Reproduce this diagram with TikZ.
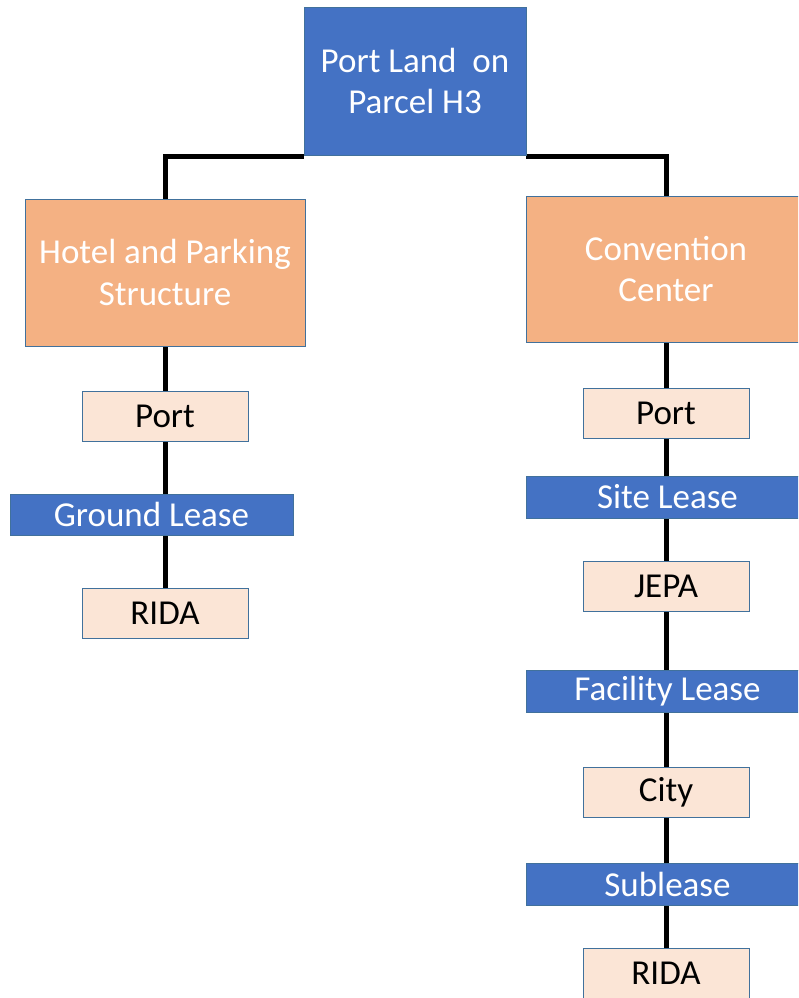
\documentclass[tikz,border=0pt]{standalone}
\usepackage{fontspec}
\setmainfont{Carlito}
\usetikzlibrary{backgrounds}
\definecolor{obBlue}{HTML}{4472C4}
\definecolor{obOrange}{HTML}{F4B183}
\definecolor{obPeach}{HTML}{FBE5D6}
\definecolor{obEdge}{HTML}{41719C}
\begin{document}
\begin{tikzpicture}[x=1pt,y=-1pt,
  box/.style={draw=obEdge,line width=0.9pt,inner sep=0pt,align=center,
    font=\fontsize{35}{41.5}\selectfont},
  topbox/.style={box,fill=obBlue,text=white,minimum width=222pt,minimum height=148pt},
  catbox/.style={box,fill=obOrange,text=white,minimum width=280pt,minimum height=147pt},
  party/.style={box,fill=obPeach,text=black,minimum width=166pt,minimum height=50pt},
  lease/.style={box,fill=obBlue,text=white,minimum width=283pt,minimum height=42pt},
  link/.style={line width=5pt,black}]
\clip (0,0) rectangle (798,998);
\node[topbox] (top) at (415,81) {Port Land~~on\\Parcel H3};
\node[catbox] (hotel) at (165,272.5) {Hotel and Parking\\Structure};
\node[catbox,minimum height=146pt] (conv) at (666,269) {Convention\\Center};
\node[party] (portL) at (165,416) {Port};
\node[lease,minimum height=41pt] (ground) at (151.5,514.5) {Ground Lease};
\node[party] (ridaL) at (165,613) {RIDA};
\node[party] (portR) at (666,413) {Port};
\node[lease] (site) at (667.5,497) {Site Lease};
\node[party] (jepa) at (666,586) {JEPA};
\node[lease] (facility) at (667.5,691) {Facility Lease};
\node[party] (city) at (666,792) {City};
\node[lease] (sublease) at (667.5,884) {Sublease};
\node[party] (ridaR) at (666,973) {RIDA};
\begin{scope}[on background layer]
\fill[white] (0,0) rectangle (798,998);
\draw[link] ([yshift=-1pt]top.south west) -| (hotel.north);
\draw[link] ([yshift=-1pt]top.south east) -| (conv.north);
\draw[link] (hotel.south) -- (portL.north);
\draw[link] (portL.south) -- (portL.south |- ground.north);
\draw[link] (ridaL.north |- ground.south) -- (ridaL.north);
\draw[link] (conv.south) -- (portR.north);
\draw[link] (portR.south) -- (portR.south |- site.north);
\draw[link] (jepa.north |- site.south) -- (jepa.north);
\draw[link] (jepa.south) -- (jepa.south |- facility.north);
\draw[link] (city.north |- facility.south) -- (city.north);
\draw[link] (city.south) -- (city.south |- sublease.north);
\draw[link] (ridaR.north |- sublease.south) -- (ridaR.north);
\end{scope}
\end{tikzpicture}
\end{document}
